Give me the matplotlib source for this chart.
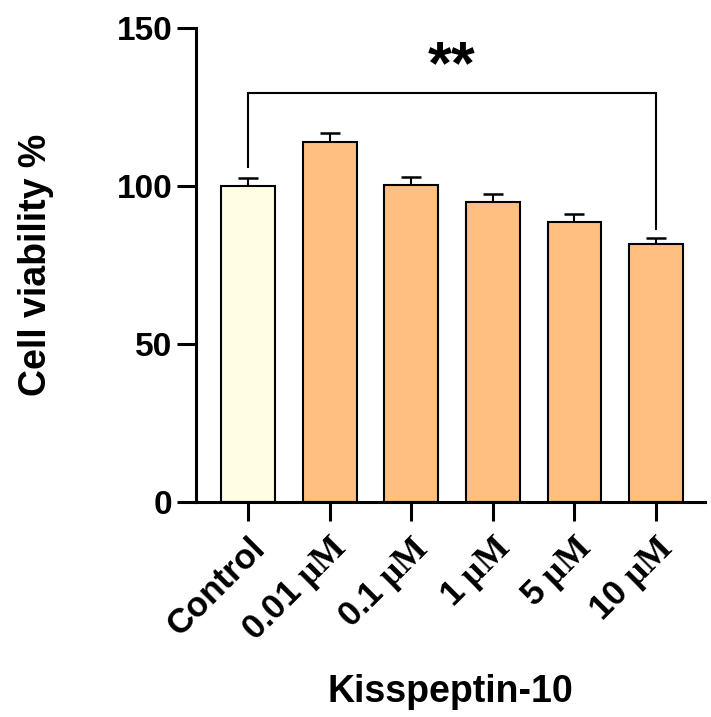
import matplotlib
matplotlib.use("Agg")
import matplotlib.pyplot as plt
import numpy as np

categories = ["Control", "0.01 µM", "0.1 µM", "1 µM", "5 µM", "10 µM"]
values = [100.0, 114.0, 100.4, 94.8, 88.5, 81.6]
errors = [2.5, 2.8, 2.5, 2.6, 2.7, 2.1]
colors = ["#FFFDE3", "#FFBF80", "#FFBF80", "#FFBF80", "#FFBF80", "#FFBF80"]
bracket = {"left": 0, "right": 5, "top": 129.5, "left_end": 106, "right_end": 86.3, "label": "**"}

plt.rcParams['font.family'] = ['Liberation Sans', 'DejaVu Sans']
plt.rcParams['font.weight'] = 'bold'
plt.rcParams['mathtext.fontset'] = 'custom'
plt.rcParams['mathtext.bf'] = 'Liberation Serif:bold'
plt.rcParams['mathtext.rm'] = 'Liberation Serif'

fig = plt.figure(figsize=(7.11, 7.17), dpi=100)
ax = fig.add_axes([196/711, 1-502/717, (705-196)/711, (502-28)/717])

x = np.arange(len(categories))
ax.bar(x, values, width=0.66, color=colors, edgecolor="black", linewidth=1.5, zorder=2)
ax.errorbar(x, values, yerr=[np.zeros(len(errors)), errors], fmt="none",
            ecolor="black", elinewidth=1.5, capsize=7, capthick=1.8, zorder=1)

# significance bracket
bl, br, bt = bracket["left"], bracket["right"], bracket["top"]
ax.plot([bl, bl, br, br], [bracket["left_end"], bt, bt, bracket["right_end"]],
        color="black", lw=1.5, solid_joinstyle="miter", clip_on=False)
ax.text((bl + br) / 2, bt - 1.0, bracket["label"], ha="center", va="bottom",
        fontsize=44, fontweight="bold")

ax.set_xlim(-0.64, 5.6)
ax.set_ylim(0, 150)
ax.set_yticks([0, 50, 100, 150])
ax.tick_params(axis="y", labelsize=24, length=14, width=2.2, direction="out", pad=3)
ax.tick_params(axis="x", labelsize=25, length=14, width=2.2, direction="out", pad=7)

def fmt(label):
    if "µM" in label:
        num = label.replace(" µM", "")
        return num + r" $\mathbf{µM}$"
    return label

ax.set_xticks(x)
ax.set_xticklabels([fmt(c) for c in categories], rotation=45, ha="right",
                   rotation_mode="anchor", fontweight="bold")
for lab in ax.get_yticklabels():
    lab.set_fontweight("bold")

for s in ["top", "right"]:
    ax.spines[s].set_visible(False)
for s in ["left", "bottom"]:
    ax.spines[s].set_linewidth(2.2)

ax.set_ylabel("Cell viability %", fontsize=27, fontweight="bold", labelpad=45)
ax.set_xlabel("Kisspeptin-10", fontsize=27, fontweight="bold", labelpad=18)

fig.savefig("out.png", dpi=100)
